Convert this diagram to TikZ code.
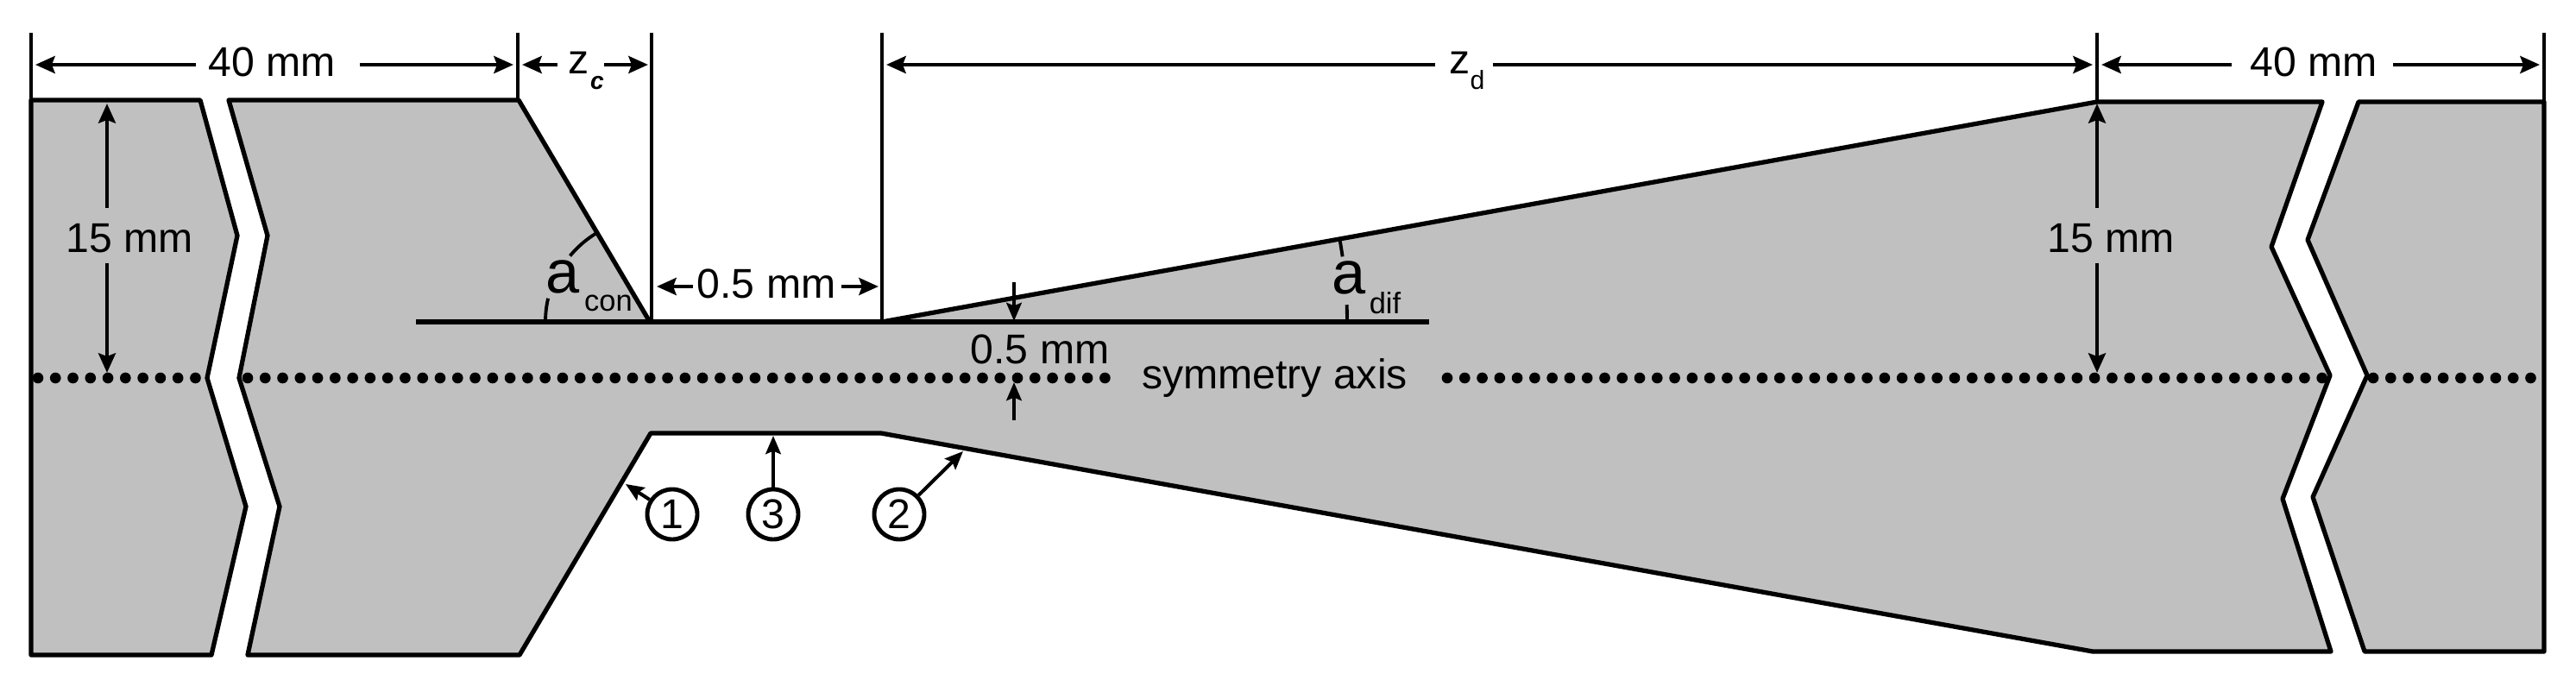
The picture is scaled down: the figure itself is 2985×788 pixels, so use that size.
\documentclass[tikz,border=0pt]{standalone}
\usepackage{fontspec}
\setmainfont{Liberation Sans}
\usetikzlibrary{arrows.meta}
\definecolor{wall}{RGB}{192,192,192}
\tikzset{
    dimhalf/.style={line width=1.35pt, -{Stealth[length=6.4pt,width=5.6pt,inset=1pt]}},
    leader/.style={line width=1.15pt, -{Stealth[length=6pt,width=5pt,inset=1pt]}},
    extline/.style={line width=1.1pt},
    outline/.style={draw=black, fill=wall, line width=1.5pt, line join=round},
    axisdots/.style={line width=3.6pt, line cap=round, dash pattern=on 0pt off 5.765pt},
    lbl/.style={inner sep=0pt, font=\fontsize{13.7}{15}\selectfont},
    bigsym/.style={inner sep=0pt, font=\fontsize{20}{22}\selectfont},
    subsym/.style={inner sep=0pt, font=\fontsize{9.8}{12}\selectfont},
    ringnum/.style={draw, circle, line width=1.4pt, minimum size=16.5pt, inner sep=0pt, font=\fontsize{13.7}{15}\selectfont},
}
\begin{document}
\begin{tikzpicture}[x=0.01cm, y=-0.01cm]
    \useasboundingbox (0,0) rectangle (2985,788);

    % nozzle blocks
    \draw[outline] (36,116) -- (232,116) -- (275,273) -- (240,438) -- (285,587) -- (245,759) -- (36,759) -- cycle;
    \draw[outline] (265,116) -- (601,116) -- (753,373) -- (1022,373) -- (2430,118) -- (2691,118) -- (2632,286)
        -- (2700,435) -- (2645,578) -- (2701,755) -- (2425,755) -- (1021,502) -- (754,502) -- (602,759) -- (287,759)
        -- (324,587) -- (277,438) -- (310,273) -- cycle;
    \draw[outline] (2733,118) -- (2948,118) -- (2948,755) -- (2740,755) -- (2680,576) -- (2743,435) -- (2674,278) -- cycle;

    % extension lines
    \draw[extline] (36,38) -- (36,116);
    \draw[extline] (600,38) -- (600,116);
    \draw[extline] (755,38) -- (755,373);
    \draw[extline] (1022,38) -- (1022,373);
    \draw[extline] (2430,38) -- (2430,118);
    \draw[extline] (2948,38) -- (2948,118);
    \draw[line width=1.5pt] (482,373) -- (1656,373);

    % symmetry axis
    \draw[axisdots] (44,438) -- (232,438);
    \draw[axisdots] (287,438) -- (1296,438);
    \draw[axisdots] (1677,438) -- (2695,438);
    \draw[axisdots] (2750,438) -- (2933,438);
    \node[lbl] (axislabel) at (1477,438) {symmetry axis};

    % width dimensions
    \node[lbl] (wleft) at (315,72) {40 mm};
    \draw[dimhalf] (227,75) -- (41,75);
    \draw[dimhalf] (417,75) -- (595,75);
    \node[lbl] (zc) at (671,73) {z};
    \node[inner sep=0pt, font=\fontsize{8}{9}\selectfont\bfseries\itshape] (zcsub) at (692,96) {c};
    \draw[dimhalf] (646,75) -- (605,75);
    \draw[dimhalf] (700,75) -- (751,75);
    \node[lbl] (zd) at (1692,73) {z};
    \node[inner sep=0pt, font=\fontsize{8.6}{9}\selectfont] (zdsub) at (1712,93) {d};
    \draw[dimhalf] (1663,75) -- (1027,75);
    \draw[dimhalf] (1730,75) -- (2425,75);
    \node[lbl] (wright) at (2681,72) {40 mm};
    \draw[dimhalf] (2586,75) -- (2435,75);
    \draw[dimhalf] (2773,75) -- (2943,75);
    \node[lbl] (throat) at (888,329) {0.5 mm};
    \draw[dimhalf] (803,332) -- (761,332);
    \draw[dimhalf] (975,332) -- (1018,332);

    % height dimensions
    \node[lbl] (hleft) at (150,276) {15 mm};
    \draw[dimhalf] (124,241) -- (124,120);
    \draw[dimhalf] (124,305) -- (124,432);
    \node[lbl] (hright) at (2446,276) {15 mm};
    \draw[dimhalf] (2430,241) -- (2430,120);
    \draw[dimhalf] (2430,305) -- (2430,432);
    \node[lbl] (hthroat) at (1205,405) {0.5 mm};
    \draw[leader] (1175,327) -- (1175,372);
    \draw[leader] (1175,487) -- (1175,443);

    % angles
    \node[bigsym] (acon) at (652,321) {a};
    \node[subsym] (aconsub) at (705,351) {con};
    \draw[extline] (753,373) ++(-180:121) arc[start angle=-180, end angle=-167, radius=121];
    \draw[extline] (753,373) ++(-140.4:120) arc[start angle=-140.4, end angle=-121.7, radius=120];
    \node[bigsym] (adif) at (1563,322) {a};
    \node[subsym] (adifsub) at (1605,351) {dif};
    \draw[extline] (1022,373) ++(-2.1:539) arc[start angle=-2.1, end angle=0, radius=539];
    \draw[extline] (1022,373) ++(-10.26:539) arc[start angle=-10.26, end angle=-8.07, radius=539];

    % numbered walls
    \node[ringnum] (ring1) at (779,596) {1};
    \node[ringnum] (ring3) at (896,596) {3};
    \node[ringnum] (ring2) at (1042,596) {2};
    \coordinate (tip1) at (725,561);
    \coordinate (tip3) at (896,505);
    \coordinate (tip2) at (1116,523);
    \draw[leader] (ring1) -- (tip1);
    \draw[leader] (ring3) -- (tip3);
    \draw[leader] (ring2) -- (tip2);

\end{tikzpicture}
\end{document}
